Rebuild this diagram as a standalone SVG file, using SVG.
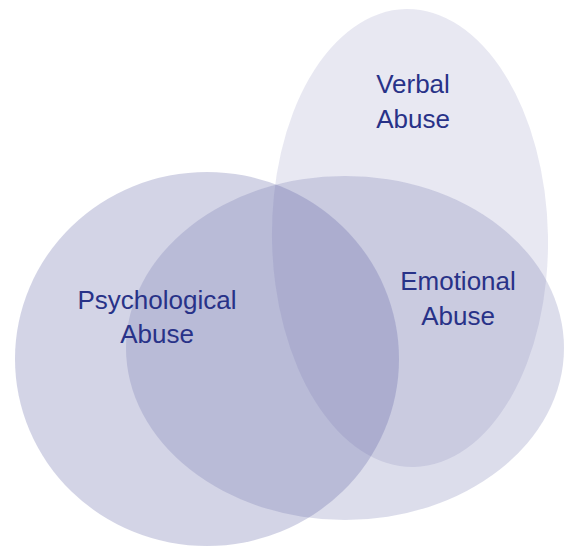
<svg xmlns="http://www.w3.org/2000/svg" width="564" height="547" viewBox="0 0 564 547">
  <style>
    .set { fill: #5a5fa0; stroke: none; }
    .lbl { font-family: "Liberation Sans", Arial, sans-serif; font-size: 26px; fill: #283288; text-anchor: middle; }
  </style>
  <rect width="564" height="547" fill="#ffffff"/>
  <g id="verbal">
    <ellipse class="set" cx="410" cy="238" rx="138" ry="229" fill-opacity="0.14" transform="rotate(-1 410 238)"/>
  </g>
  <g id="psychological">
    <ellipse class="set" cx="207" cy="359" rx="192" ry="187" fill-opacity="0.267"/>
  </g>
  <g id="emotional">
    <ellipse class="set" cx="345" cy="348" rx="219" ry="172" fill-opacity="0.21"/>
  </g>
  <g id="labels">
    <text class="lbl" x="413" y="93">Verbal</text>
    <text class="lbl" x="413" y="128">Abuse</text>
    <text class="lbl" x="157" y="309">Psychological</text>
    <text class="lbl" x="157" y="343">Abuse</text>
    <text class="lbl" x="458" y="290">Emotional</text>
    <text class="lbl" x="458" y="325">Abuse</text>
  </g>
</svg>
